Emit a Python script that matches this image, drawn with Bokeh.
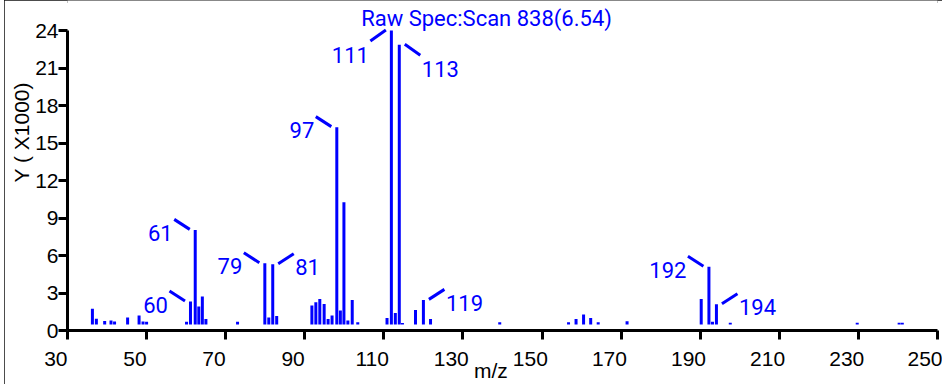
from bokeh.plotting import figure
from bokeh.models import Range1d, ColumnDataSource, Label, FixedTicker, Title
from bokeh.core.properties import value
from bokeh.embed import file_html
from bokeh.resources import INLINE

# ---------------- data ----------------
mz = [36.3, 37.3, 39.4, 41.0, 41.9, 45.2, 48.1, 49.1, 50.0,
      60.1, 61.1, 62.3, 63.2, 64.1, 65.0, 73.0,
      79.9, 80.9, 81.9, 82.9,
      91.8, 92.8, 93.8, 94.9, 95.9, 96.9, 98.1, 99.0, 99.9, 100.9, 102.0, 103.4,
      110.8, 111.9, 112.9, 113.9, 114.7, 118.0, 120.0, 121.8,
      139.3, 156.7, 158.6, 160.5, 162.3, 164.2, 171.5,
      190.25, 192.2, 193.1, 194.1, 197.6, 229.7, 240.3, 241.1]
intensity = [1.74, 0.94, 0.76, 0.8, 0.72, 1.04, 1.2, 0.72, 0.7,
             0.7, 2.32, 8.05, 1.92, 2.72, 0.93, 0.7,
             5.38, 1.04, 5.3, 1.17,
             2.0, 2.27, 2.53, 2.13, 0.93, 1.2, 16.27, 1.6, 10.27, 0.8, 2.45, 0.67,
             1.01, 24.0, 1.41, 22.86, 0.6, 1.65, 2.45, 0.93,
             0.67, 0.67, 0.93, 1.28, 1.01, 0.67, 0.75,
             2.53, 5.1, 0.7, 2.1, 0.62, 0.62, 0.62, 0.62]

label_mz = [61.1, 62.3, 79.9, 81.9, 98.1, 111.9, 113.9, 120.0, 192.2, 194.1]
label_text = ["60", "61", "79", "81", "97", "111", "113", "119", "192", "194"]
label_side = [-1, -1, -1, 1, -1, -1, 1, 1, -1, 1]   # -1 label on left, +1 on right
label_dir = [1, 1, 1, 1, 1, -1, -1, 1, 1, 1]       # +1 leader goes up, -1 goes down

x_ticks = [30, 50, 70, 90, 110, 130, 150, 170, 190, 210, 230, 250]
y_ticks = [0, 3, 6, 9, 12, 15, 18, 21, 24]

title_text = "Raw Spec:Scan 838(6.54)"
x_title = "m/z"
y_title = "Y ( X1000)"

# ---------------- layout / style ----------------
BLUE = "#0000FF"
W, H = 938, 384
ML, MR, MT, MB = 63, 5, 0, 54
X0, X1 = 30, 250
PXX = (W - ML - MR) / (X1 - X0)   # px per m/z unit
PXY = 12.5                         # px per 1000 counts
Y0, Y1 = 0, (H - MT - MB) / PXY
BASE = 6 / PXY                     # bars start slightly above the axis

p = figure(width=W, height=H, x_range=Range1d(X0, X1), y_range=Range1d(Y0, Y1),
           output_backend="svg", toolbar_location=None,
           min_border_left=ML, min_border_right=MR, min_border_top=MT, min_border_bottom=MB,
           background_fill_color="white", border_fill_color="white",
           outline_line_color=None)
p.grid.visible = False
p.styles = {"margin-left": "4px", "outline": "3px solid #111111",
            "outline-offset": "-3px"}

for ax in (p.xaxis[0], p.yaxis[0]):
    ax.axis_line_width = 3
    ax.axis_line_color = "black"
    ax.major_tick_line_width = 3
    ax.major_tick_line_color = "black"
    ax.major_tick_out = 9
    ax.major_tick_in = 0
    ax.minor_tick_line_color = None
    ax.major_label_text_font = "Liberation Sans"
    ax.major_label_text_font_size = "21px"
    ax.major_label_text_color = "black"

p.xaxis.ticker = FixedTicker(ticks=x_ticks)
p.xaxis.bounds = (x_ticks[0], x_ticks[-1])
# labels sit slightly left of their ticks (as in the reference)
p.xaxis.major_label_overrides = {t: (f"{t}\u2007\u2007" if t != x_ticks[-1] else f"{t}")
                                 for t in x_ticks}
p.xaxis.major_label_standoff = 7
p.xaxis.axis_label = x_title + "\u2007\u2007"
p.xaxis.axis_label_standoff = -14
p.xaxis.axis_label_text_font = "Liberation Sans"
p.xaxis.axis_label_text_font_size = "21px"
p.xaxis.axis_label_text_font_style = "normal"
p.xaxis.axis_label_text_color = "black"

p.yaxis.ticker = FixedTicker(ticks=y_ticks)
p.yaxis.bounds = (y_ticks[0], y_ticks[-1])
p.yaxis.major_label_standoff = 0

# bars
src = ColumnDataSource(dict(x=mz, top=intensity, base=[BASE] * len(mz)))
p.segment(x0="x", y0="base", x1="x", y1="top", source=src,
          line_color=BLUE, line_width=3)

# peak labels with leader lines
h_of = dict(zip(mz, intensity))
sx0, sy0, sx1, sy1, tx, ty, txo, talign = [], [], [], [], [], [], [], []
for m, t, s, d in zip(label_mz, label_text, label_side, label_dir):
    h = h_of[m]
    x_start = m + s * 5.5 / PXX
    y_start = h + 0.5 / PXY
    x_end = m + s * 21.0 / PXX
    y_end = h + d * 10.5 / PXY
    sx0.append(x_start); sy0.append(y_start); sx1.append(x_end); sy1.append(y_end)
    tx.append(x_end); ty.append(y_end)
    txo.append(s * 1.5)
    talign.append("right" if s < 0 else "left")
lsrc = ColumnDataSource(dict(x0=sx0, y0=sy0, x1=sx1, y1=sy1, tx=tx, ty=ty,
                             txt=label_text, xo=txo, al=talign))
p.segment(x0="x0", y0="y0", x1="x1", y1="y1", source=lsrc,
          line_color=BLUE, line_width=3)
p.text(x="tx", y="ty", text="txt", source=lsrc, x_offset="xo", y_offset=13.5,
       text_align="al", text_baseline="middle", text_color=BLUE,
       text_font=value("Roboto"), text_font_size="22px")

# spectrum title
p.add_layout(Label(x=135.96, y=24.98, text=title_text, text_align="center",
                   text_baseline="middle", text_color=BLUE,
                   text_font="Roboto", text_font_size="22px"))

# y-axis title (placed higher than centre, like the reference)
p.add_layout(Title(text=y_title, align="left", offset=148, standoff=0,
                   text_font="Liberation Sans", text_font_size="21px",
                   text_font_style="normal", text_color="black"), "left")

open("out.html", "w").write(file_html(p, INLINE))
